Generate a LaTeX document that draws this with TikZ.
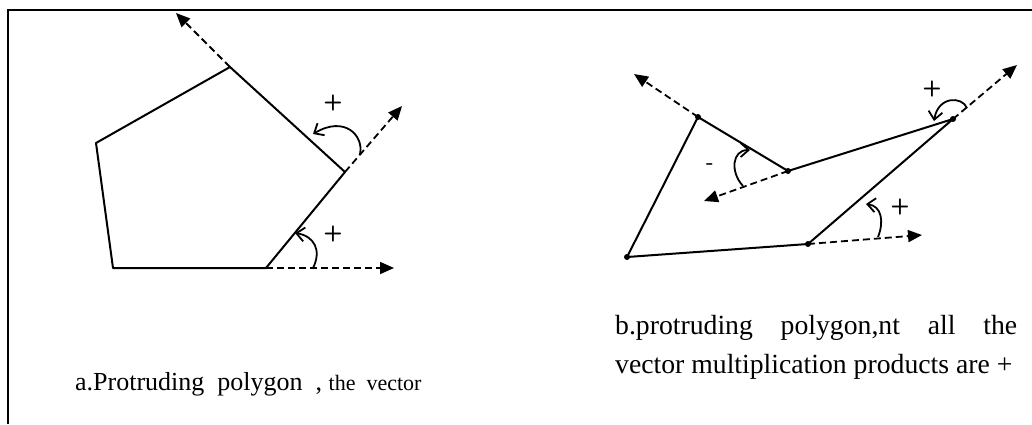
\documentclass[tikz,border=0pt]{standalone}
\usepackage{fontspec}
\setmainfont{Liberation Serif}
\usetikzlibrary{arrows.meta}
\begin{document}
\begin{tikzpicture}[x=1pt,y=-1pt,
 edge/.style={line width=2pt,line join=round},
 ext/.style={line width=1.8pt,dash pattern=on 7pt off 4pt,-{Triangle[length=14pt,width=12pt]}},
 turn/.style={line width=1.8pt,-{Straight Barb[length=8pt,width=14pt]}},
 sign/.style={font=\fontsize{22}{22}\sffamily\bfseries,inner sep=0pt},
 dot/.style={circle,fill,inner sep=0pt,minimum size=6pt}]
 \useasboundingbox (0,0) rectangle (1032,424);
 \draw[line width=2pt] (8,424)--(8,10)--(1032,10);
 % a: convex polygon
 \coordinate (p1) at (230,67);
 \coordinate (p2) at (96,143);
 \coordinate (p3) at (113,268);
 \coordinate (p4) at (266,268);
 \coordinate (p5) at (345,172);
 \draw[edge] (p1)--(p2)--(p3)--(p4)--(p5)--cycle;
 \coordinate (t1) at (176,13);
 \coordinate (t4) at (394,268);
 \coordinate (t5) at (402,106);
 \draw[ext] (p1)--(t1);
 \draw[ext] (p4)--(t4);
 \draw[ext] (p5)--(t5);
 \draw[turn] (313,268) .. controls (322,250) and (314,236) .. (295,233);
 \draw[turn] (360,154) .. controls (364,136) and (345,115) .. (313,134);
 \node[sign] (s1) at (333,234) {+};
 \node[sign] (s2) at (333,103) {+};
 % b: polygon with a reflex vertex
 \coordinate (q1) at (698,117);
 \coordinate (q2) at (788,171);
 \coordinate (q3) at (953,119);
 \coordinate (q4) at (808,244);
 \coordinate (q5) at (627,257);
 \draw[edge] (q1)--(q2)--(q3)--(q4)--(q5)--cycle;
 \foreach \q in {q1,q2,q3,q4,q5} \node[dot] at (\q) {};
 \coordinate (u1) at (634,74);
 \coordinate (u2) at (704,201);
 \coordinate (u3) at (1017,65);
 \coordinate (u4) at (922,235);
 \draw[ext] (q1)--(u1);
 \draw[ext] (q2)--(u2);
 \draw[ext] (q3)--(u3);
 \draw[ext] (q4)--(u4);
 \draw[turn] (878,237) .. controls (884,222) and (882,206) .. (866,204);
 \draw[turn] (967,108) .. controls (962,96) and (938,96) .. (934,121);
 \draw[turn] (743,186) .. controls (730,172) and (732,150) .. (750,150);
 \node[sign] (s3) at (900,207) {+};
 \node[sign] (s4) at (932,89) {+};
 \node[sign] (s5) at (710,167) {-};
 % captions
 \node[anchor=base west,inner sep=0pt,font=\fontsize{26}{30}\selectfont] (ca) at (75,390)
   {a.Protruding\ \ polygon\ \ , {\fontsize{22}{26}\selectfont the\ \ vector}};
 \node[anchor=base west,inner sep=0pt,align=left,font=\fontsize{27.7}{39}\selectfont] (cb) at (615,373)
   {\makebox[402pt][s]{b.protruding\hfill polygon,nt\hfill all\hfill the}\\
    vector multiplication products are +};
\end{tikzpicture}
\end{document}
